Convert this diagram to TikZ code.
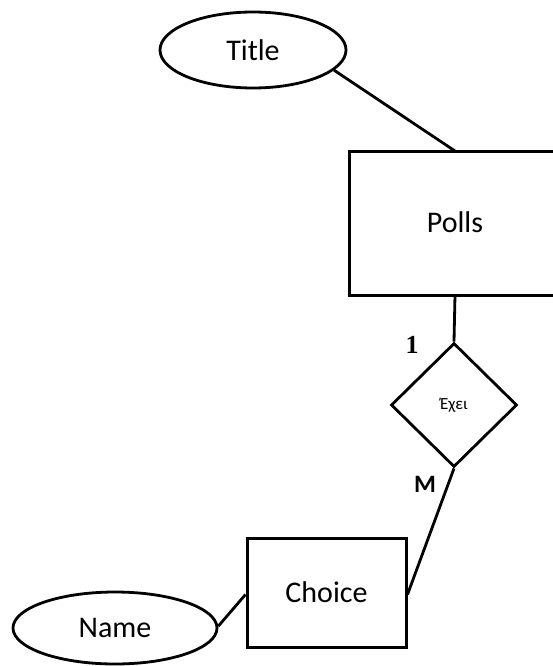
\documentclass[tikz,border=0pt]{standalone}
\usepackage{fontspec}
\setmainfont{Carlito}
\newfontfamily\numfont{Liberation Serif}
\usetikzlibrary{shapes.geometric}
\begin{document}
\begin{tikzpicture}[x=1pt,y=-1pt,
  every node/.style={font=\fontsize{30}{33}\selectfont},
  attr/.style={draw,line width=2.8pt,ellipse,minimum width=#1,inner sep=0pt},
  entity/.style={draw,line width=3pt,rectangle,inner sep=0pt},
  rel/.style={draw,line width=2.8pt,diamond,minimum width=126pt,minimum height=124pt,inner sep=0pt,aspect=1},
  link/.style={line width=2.8pt}]
\useasboundingbox (0,0) rectangle (553,666);
\begin{scope}
\clip (0,0) rectangle (553,666);
% attributes
\node[attr=186pt,minimum height=76pt] (title) at (253,50) {Title};
\node[attr=204pt,minimum height=72pt] (name) at (115,628) {Name};
% entity Polls runs off the right edge
\coordinate (pollsTL) at (349,151);
\coordinate (pollsBL) at (349,295);
\draw[line width=3pt] (600,151) -- (pollsTL) -- (pollsBL) -- (600,295);
\node (polls) at (455,222) {Polls};
\coordinate (pollsTop) at (455,151);
\coordinate (pollsBot) at (455,295);
% entity Choice
\node[entity,minimum width=159pt,minimum height=109pt] (choice) at (326.5,592.5) {Choice};
% relationship
\node[rel,font=\fontsize{17}{19}\selectfont] (has) at (454,405) {Έχει};
% connectors
\draw[link] (title.-14) -- (pollsTop);
\draw[link] (pollsBot) -- (has.north);
\draw[link] (has.south) -- ([yshift=-2pt]choice.east);
\draw[link] (name.1) -- ([yshift=-2pt]choice.west);
% cardinalities
\node[font=\numfont\bfseries\fontsize{26}{28}\selectfont] (one) at (412,345) {1};
\node[font=\bfseries\fontsize{25}{27}\selectfont] (many) at (425,484) {M};
\end{scope}
\end{tikzpicture}
\end{document}
